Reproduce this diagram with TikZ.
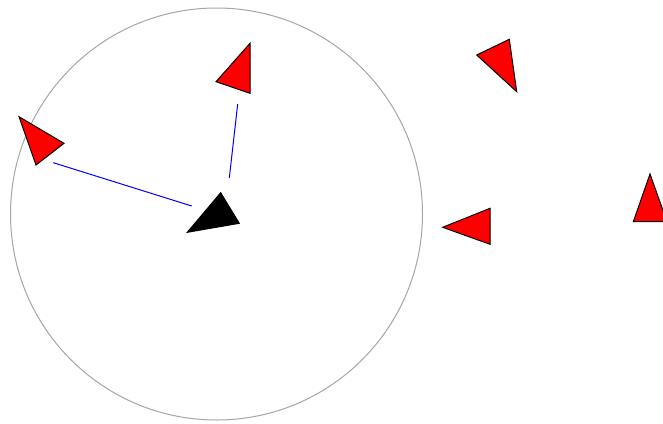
\documentclass[tikz,border=0pt]{standalone}
\begin{document}
\begin{tikzpicture}[x=1pt,y=-1pt,
  agent/.style={draw=black,fill=red,line width=1pt,line join=miter},
  selfagent/.style={draw=black,fill=black,line width=1pt},
  sensecircle/.style={draw=black!35,line width=1pt},
  linkline/.style={draw=blue,line width=1pt}]
\useasboundingbox (0,0) rectangle (663,423);
\clip (0,0) rectangle (663,423);
\fill[white] (0,0) rectangle (663,423);
% perception radius
\draw[sensecircle] (216.5,214) circle[radius=206];
% neighbour links
\coordinate (l1a) at (229.3,178);
\coordinate (l1b) at (237.7,104);
\coordinate (l2a) at (191.7,206);
\coordinate (l2b) at (53.3,162.7);
\draw[linkline] (l1a) -- (l1b);
\draw[linkline] (l2a) -- (l2b);
% self agent
\draw[selfagent] (220.7,192.7) -- (239.3,223.3) -- (187.3,232.3) -- cycle;
% other agents
\draw[agent] (250,43.3) -- (250,93.3) -- (216,81.7) -- cycle;
\draw[agent] (19,116.7) -- (64,143.3) -- (36,165) -- cycle;
\draw[agent] (509.3,39.3) -- (516.7,91.7) -- (476.7,55) -- cycle;
\draw[agent] (490,208.3) -- (490,244.3) -- (442.7,227.3) -- cycle;
\draw[agent] (650,174) -- (667,221.7) -- (633.3,221.7) -- cycle;
\end{tikzpicture}
\end{document}
